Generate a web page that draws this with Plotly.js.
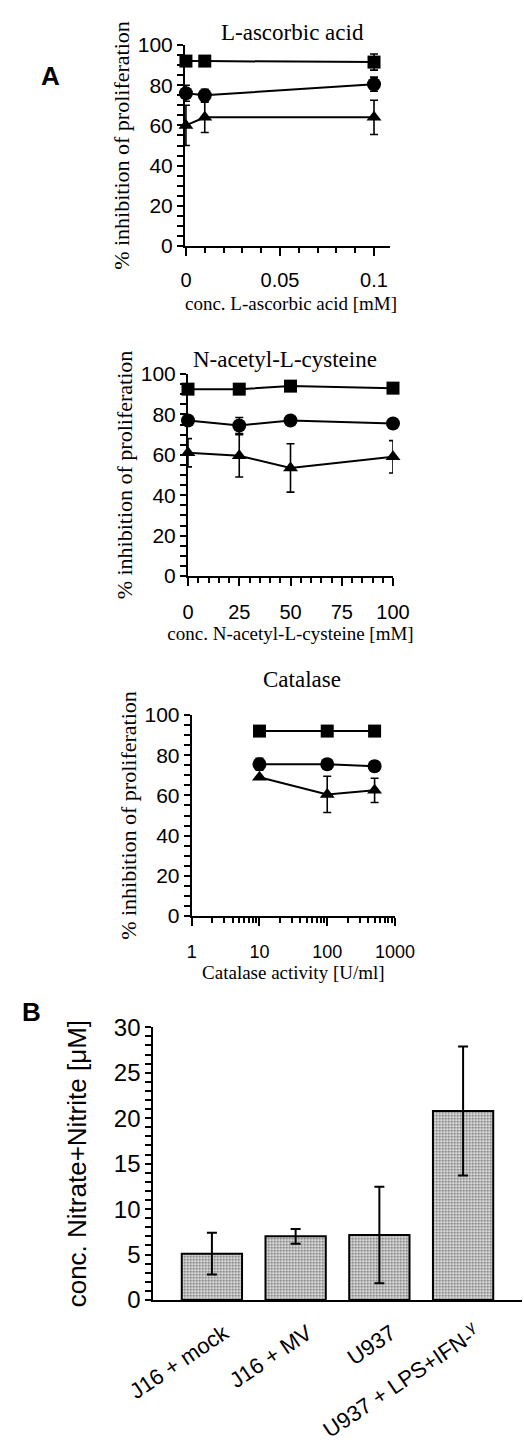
<!DOCTYPE html>
<html>
<head>
<meta charset="utf-8">
<script src="https://cdn.plot.ly/plotly-3.0.1.min.js"></script>
<style>html,body{margin:0;padding:0;background:#fff;}#chart{width:524px;height:1447px;}</style>
</head>
<body>
<div id="chart"></div>
<script>
// ---- Panel A1: L-ascorbic acid ----
const ascX = [0, 0.01, 0.1];
const ascSquare = [92, 92, 91.5];
const ascSquareErr = [2, 0, 4];
const ascCircle = [76, 75, 80.5];
const ascCircleErr = [4, 3, 3.5];
const ascTriangle = [60, 64, 64];
const ascTriangleErr = [10, 7.5, 8.5];

// ---- Panel A2: N-acetyl-L-cysteine ----
const nacX = [0, 25, 50, 100];
const nacSquare = [92.5, 92.5, 94, 93];
const nacSquareErr = [0, 0, 0, 0];
const nacCircle = [77, 74.5, 77, 75.5];
const nacCircleErr = [2, 4, 2, 2];
const nacTriangle = [61, 59.5, 53.5, 59];
const nacTriangleErr = [7, 10.5, 12, 8];

// ---- Panel A3: Catalase ----
const catX = [10, 100, 500];
const catSquare = [92, 92, 92];
const catSquareErr = [0, 0, 0];
const catCircle = [75.5, 75.5, 74.5];
const catCircleErr = [3, 2.5, 2.5];
const catTriangle = [69, 60.5, 62.5];
const catTriangleErr = [0, 9, 6];

// ---- Panel B ----
const bCategories = ['J16 + mock', 'J16 + MV', 'U937', 'U937 + LPS+IFN-<sup>γ</sup>'];
const bValues = [5.1, 7.0, 7.15, 20.8];
const bErr = [2.3, 0.8, 5.3, 7.1];

// y tick marks (labelled every 20 / every 5)
const yTickValsA = [0, 5, 10, 15, 20, 25, 30, 35, 40, 45, 50, 55, 60, 65, 70, 75, 80, 85, 90, 95, 100];
const yTickTextA = ['0', '', '', '', '20', '', '', '', '40', '', '', '', '60', '', '', '', '80', '', '', '', '100'];
const yTickValsB = [0, 1, 2, 3, 4, 5, 6, 7, 8, 9, 10, 11, 12, 13, 14, 15, 16, 17, 18, 19, 20, 21, 22, 23, 24, 25, 26, 27, 28, 29, 30];
const yTickTextB = ['0', '', '', '', '', '5', '', '', '', '', '10', '', '', '', '', '15', '', '', '', '', '20', '', '', '', '', '25', '', '', '', '', '30'];

const W = 524, H = 1447;
const px = v => v / W;
const py = v => 1 - v / H;

const SANS = 'Liberation Sans, Arial, sans-serif';
const SERIF = 'Liberation Serif, Times New Roman, serif';

function series(x, y, err, symbol, size, xa, ya) {
  return {
    type: 'scatter', mode: 'lines+markers', x: x, y: y,
    xaxis: xa, yaxis: ya, cliponaxis: false, showlegend: false,
    line: {color: '#000', width: 2},
    marker: {symbol: symbol, size: size, color: '#000'},
    error_y: {type: 'data', array: err, visible: true, color: '#000', thickness: 1.6, width: 4}
  };
}

const traces = [
  series(ascX, ascSquare, ascSquareErr, 'square', 13, 'x', 'y'),
  series(ascX, ascCircle, ascCircleErr, 'circle', 14, 'x', 'y'),
  series(ascX, ascTriangle, ascTriangleErr, 'triangle-up', 13, 'x', 'y'),
  series(nacX, nacSquare, nacSquareErr, 'square', 13, 'x2', 'y2'),
  series(nacX, nacCircle, nacCircleErr, 'circle', 14, 'x2', 'y2'),
  series(nacX, nacTriangle, nacTriangleErr, 'triangle-up', 13, 'x2', 'y2'),
  series(catX, catSquare, catSquareErr, 'square', 13, 'x3', 'y3'),
  series(catX, catCircle, catCircleErr, 'circle', 14, 'x3', 'y3'),
  series(catX, catTriangle, catTriangleErr, 'triangle-up', 13, 'x3', 'y3'),
  {
    type: 'bar', x: bCategories, y: bValues, xaxis: 'x4', yaxis: 'y4', width: 0.72,
    showlegend: false,
    marker: {color: '#d0d0d0', line: {color: '#000', width: 2},
      pattern: {shape: '.', fgcolor: '#666', bgcolor: '#e4e4e4', size: 3, solidity: 0.4}},
    error_y: {type: 'data', array: bErr, visible: true, color: '#000', thickness: 2, width: 5}
  }
];

function minorTicks(d, len) {
  return {dtick: d, ticks: 'outside', ticklen: len, tickwidth: 2, tickcolor: '#000', showgrid: false};
}

function yAxisA(domTop, domBot, anchor) {
  return {
    domain: [py(domBot), py(domTop)], range: [0, 100], anchor: anchor,
    tickmode: 'array', tickvals: yTickValsA, ticktext: yTickTextA,
    ticks: 'outside', ticklen: 6, tickwidth: 2, tickcolor: '#000',
    showline: true, linewidth: 2, linecolor: '#000', showgrid: false, zeroline: false,
    tickfont: {family: SANS, size: 21, color: '#000'},
    title: {text: '% inhibition of proliferation', font: {family: SERIF, size: 22, color: '#000'}, standoff: 2}
  };
}

const layout = {
  width: W, height: H, margin: {l: 0, r: 0, t: 0, b: 0},
  paper_bgcolor: '#fff', plot_bgcolor: 'rgba(0,0,0,0)', showlegend: false,
  xaxis: {
    domain: [px(185), px(390)], range: [-0.0005, 0.1085], anchor: 'y',
    tick0: 0, dtick: 0.05, ticks: 'outside', ticklen: 8, tickwidth: 2, tickcolor: '#000',
    showline: true, linewidth: 2, linecolor: '#000', showgrid: false, zeroline: false,
    tickfont: {family: SANS, size: 20, color: '#000'}, ticklabelstandoff: 7,
    minor: minorTicks(0.01, 5)
  },
  yaxis: yAxisA(45, 246, 'x'),
  xaxis2: {
    domain: [px(188), px(393)], range: [0, 100], anchor: 'y2',
    dtick: 25, ticks: 'outside', ticklen: 8, tickwidth: 2, tickcolor: '#000',
    showline: true, linewidth: 2, linecolor: '#000', showgrid: false, zeroline: false,
    tickfont: {family: SANS, size: 20, color: '#000'}, ticklabelstandoff: 9,
    minor: minorTicks(5, 5),
    title: {text: 'conc. N-acetyl-L-cysteine [mM]', font: {family: SERIF, size: 19, color: '#000'}, standoff: 1}
  },
  yaxis2: yAxisA(374, 576, 'x2'),
  xaxis3: {
    type: 'log', domain: [px(191.7), px(395)], range: [0, 3], anchor: 'y3',
    dtick: 1, ticks: 'outside', ticklen: 8, tickwidth: 2, tickcolor: '#000',
    showline: true, linewidth: 2, linecolor: '#000', showgrid: false, zeroline: false,
    tickfont: {family: SANS, size: 18, color: '#000'}, ticklabelstandoff: 10,
    minor: minorTicks('D1', 5),
    title: {text: 'Catalase activity [U/ml]', font: {family: SERIF, size: 19, color: '#000'}, standoff: 0}
  },
  yaxis3: yAxisA(715, 916, 'x3'),
  xaxis4: {
    domain: [px(153.3), px(521.7)], range: [-0.7, 3.7], anchor: 'y4', type: 'category',
    ticks: '', showline: true, linewidth: 2, linecolor: '#000', showgrid: false, zeroline: false,
    tickangle: -34, tickfont: {family: SANS, size: 22, color: '#000'},
    ticklabelstandoff: 10, ticklabelshift: 12
  },
  yaxis4: {
    domain: [py(1300), py(1027.3)], range: [0, 30], anchor: 'x4',
    tickmode: 'array', tickvals: yTickValsB, ticktext: yTickTextB,
    ticks: 'outside', ticklen: 6, tickwidth: 2, tickcolor: '#000',
    showline: true, linewidth: 2, linecolor: '#000', showgrid: false, zeroline: false,
    tickfont: {family: SANS, size: 24, color: '#000'},
    title: {text: 'conc. Nitrate+Nitrite [μM]', font: {family: SANS, size: 26, color: '#000'}, standoff: 20}
  },
  annotations: [
    {text: 'L-ascorbic acid', x: px(292), y: py(18), xref: 'paper', yref: 'paper', showarrow: false,
     font: {family: SERIF, size: 23, color: '#000'}},
    {text: 'conc. L-ascorbic acid [mM]', x: px(291), y: py(291), xref: 'paper', yref: 'paper', showarrow: false,
     font: {family: SERIF, size: 19, color: '#000'}},
    {text: 'N-acetyl-L-cysteine', x: px(285), y: py(345), xref: 'paper', yref: 'paper', showarrow: false,
     font: {family: SERIF, size: 23, color: '#000'}},
    {text: 'Catalase', x: px(302), y: py(679), xref: 'paper', yref: 'paper', showarrow: false,
     font: {family: SERIF, size: 23, color: '#000'}},
    {text: '<b>A</b>', x: px(39), y: py(59), xref: 'paper', yref: 'paper', showarrow: false,
     font: {family: SANS, size: 26, color: '#000'}},
    {text: '<b>B</b>', x: px(20), y: py(1029), xref: 'paper', yref: 'paper', showarrow: false,
     font: {family: SANS, size: 26, color: '#000'}}
  ]
};

Plotly.newPlot('chart', traces, layout, {displayModeBar: false, staticPlot: true});
</script>
</body>
</html>
